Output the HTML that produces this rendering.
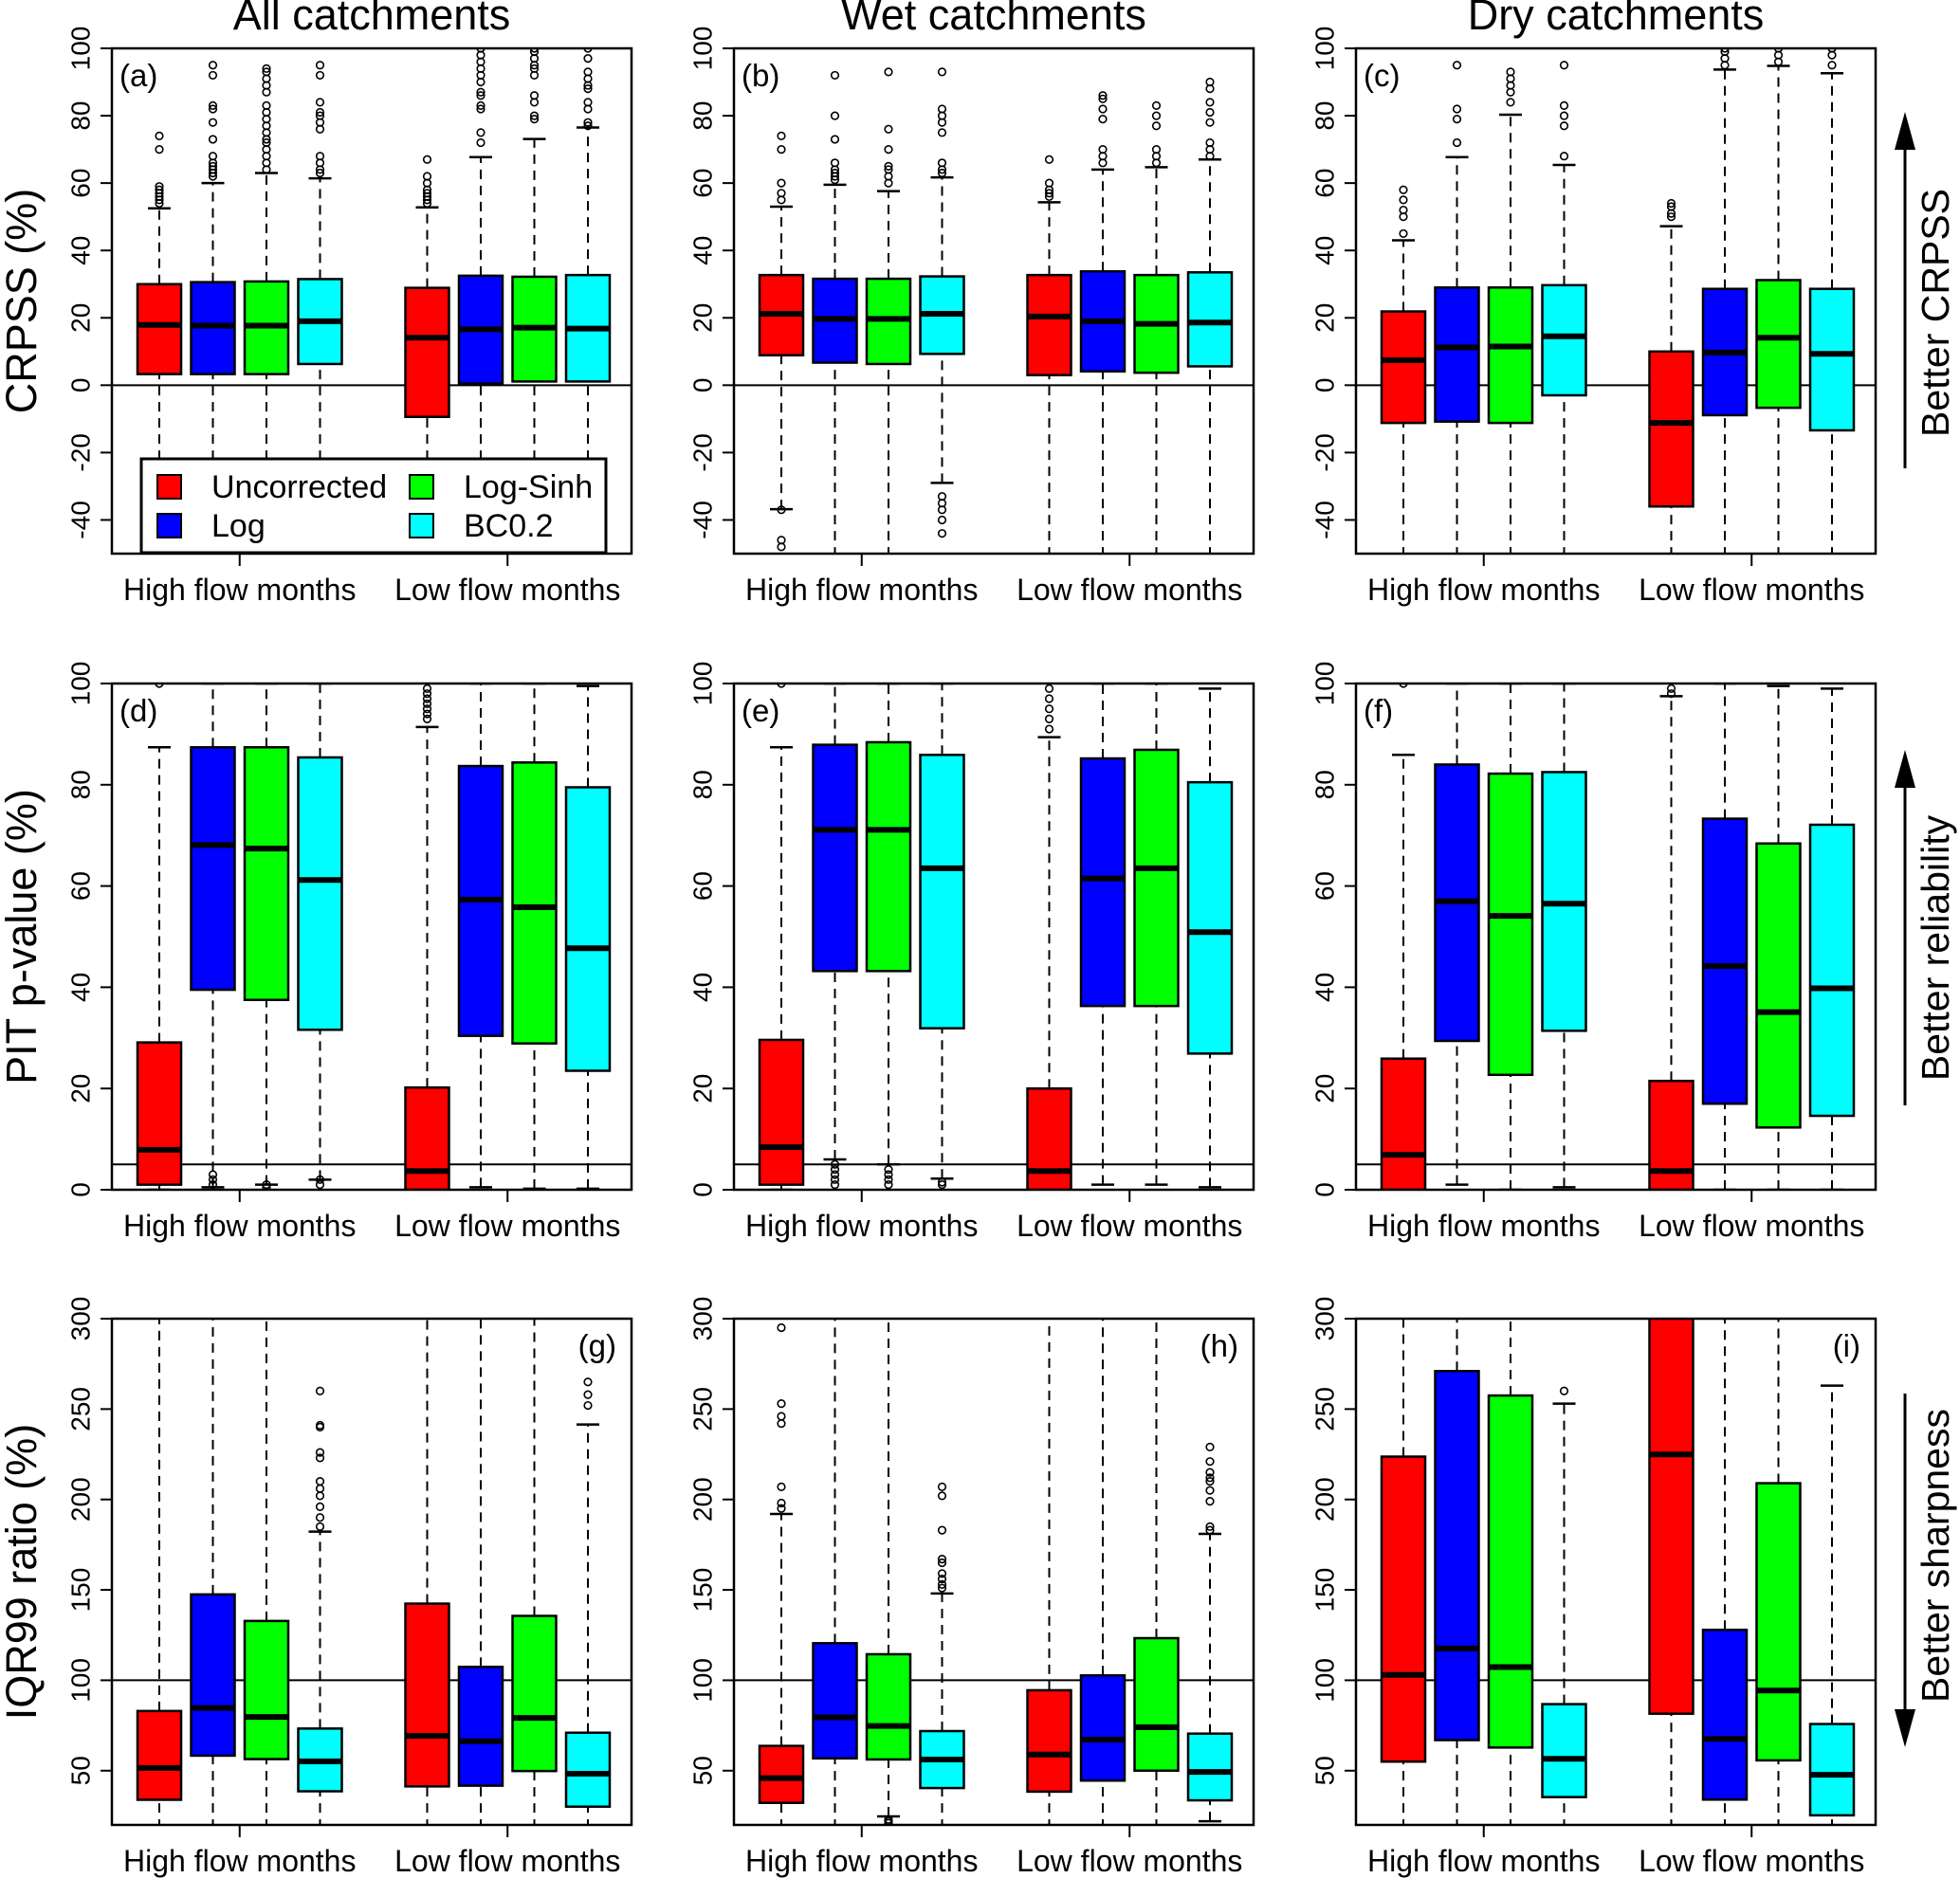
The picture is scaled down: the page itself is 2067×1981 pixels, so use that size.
<!DOCTYPE html>
<html><head><meta charset="utf-8"><style>
html,body{margin:0;padding:0;background:#fff;}
svg{display:block;font-family:"Liberation Sans",Arial,sans-serif;}
</style></head><body>
<svg id="fig" width="2067" height="1981" viewBox="0 0 2067 1981" xmlns="http://www.w3.org/2000/svg">
</svg>
<script>
// ---- data: box stats [lowWhisker, q1, median, q3, highWhisker] for the 8 boxes ----
const groups = ["High flow months","Low flow months"];
const methods = ["Uncorrected","Log","Log-Sinh","BC0.2"];
const colors = ["#ff0000","#0000ff","#00ff00","#00ffff"];
const columnTitles = ["All catchments","Wet catchments","Dry catchments"];
const rowTitles = ["CRPSS (%)","PIT p-value (%)","IQR99 ratio (%)"];
const ticksRow1 = [-40,-20,0,20,40,60,80,100];
const ticksRow2 = [0,20,40,60,80,100];
const ticksRow3 = [50,100,150,200,250,300];

const statsA = [[-70,3.3,17.9,30,52.5],[-70,3.3,17.7,30.6,60],[-70,3.3,17.7,30.8,63],[-70,6.3,19,31.5,61.4],[-70,-9.4,14.1,28.9,52.8],[-70,0.5,16.6,32.5,67.7],[-70,1.1,17.1,32.2,73.1],[-70,1.1,16.8,32.7,76.5]];
const outA = [[54,55,56,57,58,59,70,74],[62,63,64,65,66,68,73,78,82,83,92,95],[64,66,68,70,72,73,75,77,79,81,83,87,89,91,93,94],[63,64,66,68,76,78,80,81,84,92,95],[54,55,56,57,58,60,62,67],[72,75,82,83,86,87,90,92,94,96,98,100],[79,80,84,86,92,94,95,97,99,100],[77,78,82,84,88,89,91,93,97,100]];
const statsB = [[-36.8,8.9,21.2,32.7,53],[-70,6.7,19.7,31.6,59.5],[-70,6.3,19.7,31.6,57.6],[-29,9.3,21.2,32.3,61.7],[-70,3,20.4,32.7,54.3],[-70,4.1,19,33.8,64],[-70,3.7,18.2,32.7,64.7],[-70,5.6,18.6,33.5,67]];
const outB = [[55,57,60,70,74,-37,-46,-48],[61,62,63,64,66,73,80,92],[60,62,64,65,70,76,93],[63,64,66,75,78,80,82,93,-33,-35,-37,-40,-44],[56,57,58,60,67],[66,68,70,79,82,85,86],[66,68,70,77,80,83],[68,70,72,78,81,84,88,90]];
const statsC = [[-70,-11.2,7.4,21.9,43],[-70,-10.8,11.2,29,67.7],[-70,-11.2,11.5,29,80.3],[-70,-3,14.5,29.7,65.4],[-70,-36,-11.2,10,47.2],[-70,-8.9,9.7,28.6,93.7],[-70,-6.7,14.1,31.2,94.8],[-70,-13.4,9.3,28.6,92.6]];
const outC = [[45,50,52,55,58],[72,79,82,95],[84,87,89,91,93],[68,77,80,83,95],[50,51,53,54],[95,97,99,100],[96,98,100],[95,98,100]];
const statsD = [[0,1,7.9,29.1,87.4],[0.5,39.5,68.1,87.4,100],[1,37.5,67.4,87.4,100],[2,31.6,61.2,85.4,100],[0,0,3.7,20.2,91.4],[0.5,30.4,57.3,83.7,100],[0.2,28.9,55.8,84.4,100],[0.2,23.5,47.7,79.5,99.5]];
const outD = [[100],[1,2,3],[0.5,1],[1,2],[93,94,95,96,97,98,99],[],[],[]];
const statsE = [[0,1,8.4,29.6,87.4],[6,43.2,71.1,87.9,100],[5,43.2,71.1,88.4,100],[2.2,31.9,63.5,85.9,100],[0,0,3.7,20,89.4],[1,36.3,61.5,85.2,100],[1,36.3,63.5,86.9,100],[0.5,26.9,50.9,80.5,99]];
const outE = [[100],[1,2,3,4,5],[1,2,3,4],[1,1.5],[91,93,95,97,99],[],[],[]];
const statsF = [[0,0,6.9,25.9,85.9],[1,29.4,57,84,100],[0,22.7,54.1,82.2,100],[0.5,31.4,56.5,82.5,100],[0,0,3.7,21.5,97.5],[0,17,44.2,73.3,100],[0,12.3,35.1,68.4,99.5],[0,14.6,39.8,72.1,99]];
const outF = [[100],[],[],[],[98,99],[],[],[]];
const statsG = [[0,33.9,51.5,83,400],[0,58.3,84.7,147.5,400],[0,56.4,79.7,132.8,400],[0,38.6,55.1,73.3,182.2],[0,41.3,69.3,142.4,400],[0,41.7,66.3,107.4,400],[0,49.8,79.2,135.6,400],[0,30.1,48.3,71,241.5]];
const outG = [[],[],[],[185,190,196,202,206,210,223,226,240,241,260],[],[],[],[252,258,265]];
const statsH = [[0,32.2,45.9,63.7,192],[0,56.8,79.5,120.5,400],[24.7,56.2,74.7,114.4,400],[0,40.4,56.2,71.9,148],[0,38.4,58.9,94.5,400],[0,44.5,67.1,102.7,400],[0,50,74,123.3,400],[22,33.6,49.3,70.5,181]];
const outH = [[195,198,207,242,246,253,295],[],[21,22,23],[151,153,156,159,165,167,183,202,207],[],[],[],[183,185,199,205,210,212,215,221,229]];
const statsI = [[0,55,103,223.7,400],[0,66.9,117.6,271,400],[0,62.8,107.3,257.5,400],[0,35.4,56.6,86.8,253],[0,81.5,224.9,400,400],[0,34,67.6,127.9,400],[0,55.7,94.3,209,400],[0,25.3,47.7,75.8,263]];
const outI = [[],[],[],[260],[],[],[],[]];
const positions = [1,2,3,4,6,7,8,9];

// ---- layout ----
const NS="http://www.w3.org/2000/svg";
const svg=document.getElementById('fig');
function mk(tag,attrs,parent){const e=document.createElementNS(NS,tag);for(const k in attrs)e.setAttribute(k,attrs[k]);(parent||svg).appendChild(e);return e;}
const colLeft=[118,774,1430], PW=548;
const rows=[{top:51,bot:584,min:-50,max:100,ticks:ticksRow1,ref:0},{top:721,bot:1255,min:0,max:100,ticks:ticksRow2,ref:5},{top:1391,bot:1925,min:20,max:300,ticks:ticksRow3,ref:100}];
const panels=[[statsA,outA,"(a)"],[statsB,outB,"(b)"],[statsC,outC,"(c)"],[statsD,outD,"(d)"],[statsE,outE,"(e)"],[statsF,outF,"(f)"],[statsG,outG,"(g)"],[statsH,outH,"(h)"],[statsI,outI,"(i)"]];
const unit=56.5, x0=50;

panels.forEach((p,idx)=>{
  const r=rows[Math.floor(idx/3)], c=idx%3, L=colLeft[c];
  const g=mk('g',{});
  
  
  const xs=v=>L+x0+(v-1)*unit;
  const ys=v=>r.bot-(v-r.min)/(r.max-r.min)*(r.bot-r.top);
  const cid='clip'+idx;
  const cp=mk('clipPath',{id:cid},g); mk('rect',{x:L,y:r.top,width:PW,height:r.bot-r.top},cp);
  const plot=mk('g',{'clip-path':'url(#'+cid+')'},g);
  const rl=mk('line',{x1:L,x2:L+PW,y1:ys(r.ref),y2:ys(r.ref),stroke:'#000','stroke-width':2},plot);
  
  
  p[0].forEach((s,i)=>{
    const cx=xs(positions[i]), hw=23, cw=12;
    const bg=mk('g',{},plot);
    
    
    mk('line',{x1:cx,x2:cx,y1:ys(s[0]),y2:ys(s[1]),stroke:'#000','stroke-width':2,'stroke-dasharray':'10,7'},bg);
    mk('line',{x1:cx,x2:cx,y1:ys(s[3]),y2:ys(s[4]),stroke:'#000','stroke-width':2,'stroke-dasharray':'10,7'},bg);
    mk('line',{x1:cx-cw,x2:cx+cw,y1:ys(s[0]),y2:ys(s[0]),stroke:'#000','stroke-width':2.5},bg);
    mk('line',{x1:cx-cw,x2:cx+cw,y1:ys(s[4]),y2:ys(s[4]),stroke:'#000','stroke-width':2.5},bg);
    mk('rect',{x:cx-hw,y:ys(s[3]),width:2*hw,height:ys(s[1])-ys(s[3]),fill:colors[i%4],stroke:'#000','stroke-width':2.5},bg);
    mk('line',{x1:cx-hw,x2:cx+hw,y1:ys(s[2]),y2:ys(s[2]),stroke:'#000','stroke-width':6},bg);
    p[1][i].forEach(o=>{mk('circle',{cx:cx,cy:ys(o),r:3.8,fill:'none',stroke:'#000','stroke-width':1.6},bg);});
  });
  const fr=mk('rect',{x:L,y:r.top,width:PW,height:r.bot-r.top,fill:'none',stroke:'#000','stroke-width':2.5},g);
  
  
  r.ticks.forEach(t=>{
    const y=ys(t);
    mk('line',{x1:L-12,x2:L,y1:y,y2:y,stroke:'#000','stroke-width':2},g);
    const tx=mk('text',{x:0,y:0,transform:'translate('+(L-31)+','+y+') rotate(-90)','text-anchor':'middle','dominant-baseline':'middle','font-size':28},g);
    tx.textContent=t;
    
    
  });
  mk('line',{x1:L,x2:L-12,y1:r.top,y2:r.top,stroke:'#000','stroke-width':2},g);
  [2.5,7.5].forEach((v,k)=>{
    const x=xs(v);
    mk('line',{x1:x,x2:x,y1:r.bot,y2:r.bot+13,stroke:'#000','stroke-width':2},g);
    const tx=mk('text',{x:x,y:r.bot+49,'text-anchor':'middle','font-size':32},g);
    tx.textContent=groups[k];
    
    
  });
  const isBottom=idx>=6;
  const pl=mk('text',{x:isBottom?L+PW-16:L+8,y:r.top+40,'text-anchor':isBottom?'end':'start','font-size':33},g);
  pl.textContent=p[2];
  
  
});

columnTitles.forEach((t,i)=>{
  const e=mk('text',{x:colLeft[i]+PW/2,y:31,'text-anchor':'middle','font-size':45});
  e.textContent=t;
  
  
});
rowTitles.forEach((t,i)=>{
  const r=rows[i];
  const e=mk('text',{transform:'translate(38,'+((r.top+r.bot)/2)+') rotate(-90)','text-anchor':'middle','font-size':45});
  e.textContent=t;
  
  
});
const ann=[{t:"Better CRPSS",tail:494,head:118,cy:330},{t:"Better reliability",tail:1166,head:791,cy:1000},{t:"Better sharpness",tail:1470,head:1843,cy:1641}];
ann.forEach(a=>{
  const ag=mk('g',{});
  
  
  const dir=a.head<a.tail?1:-1, hl=40, hw=11;
  mk('line',{x1:2009,x2:2009,y1:a.tail,y2:a.head+dir*hl*0.8,stroke:'#000','stroke-width':3},ag);
  mk('polygon',{points:`2009,${a.head} ${2009-hw},${a.head+dir*hl} ${2009+hw},${a.head+dir*hl}`,fill:'#000'},ag);
  const e=mk('text',{transform:'translate(2055,'+a.cy+') rotate(-90)','text-anchor':'middle','font-size':41});
  e.textContent=a.t;
  
  
});
const lg=mk('g',{});


mk('rect',{x:149,y:484,width:490,height:99,fill:'#fff',stroke:'#000','stroke-width':3},lg);
const lpos=[[166,513],[166,554],[432,513],[432,554]];
[0,1,2,3].forEach((m,k)=>{
  const [lx,ly]=lpos[k];
  const it=mk('g',{},lg);
  
  
  mk('rect',{x:lx,y:ly-12,width:25,height:25,fill:colors[m],stroke:'#000','stroke-width':2},it);
  const t=mk('text',{x:lx+57,y:ly+12,'font-size':34},it);
  t.textContent=methods[m];
});
</script>
</body></html>
